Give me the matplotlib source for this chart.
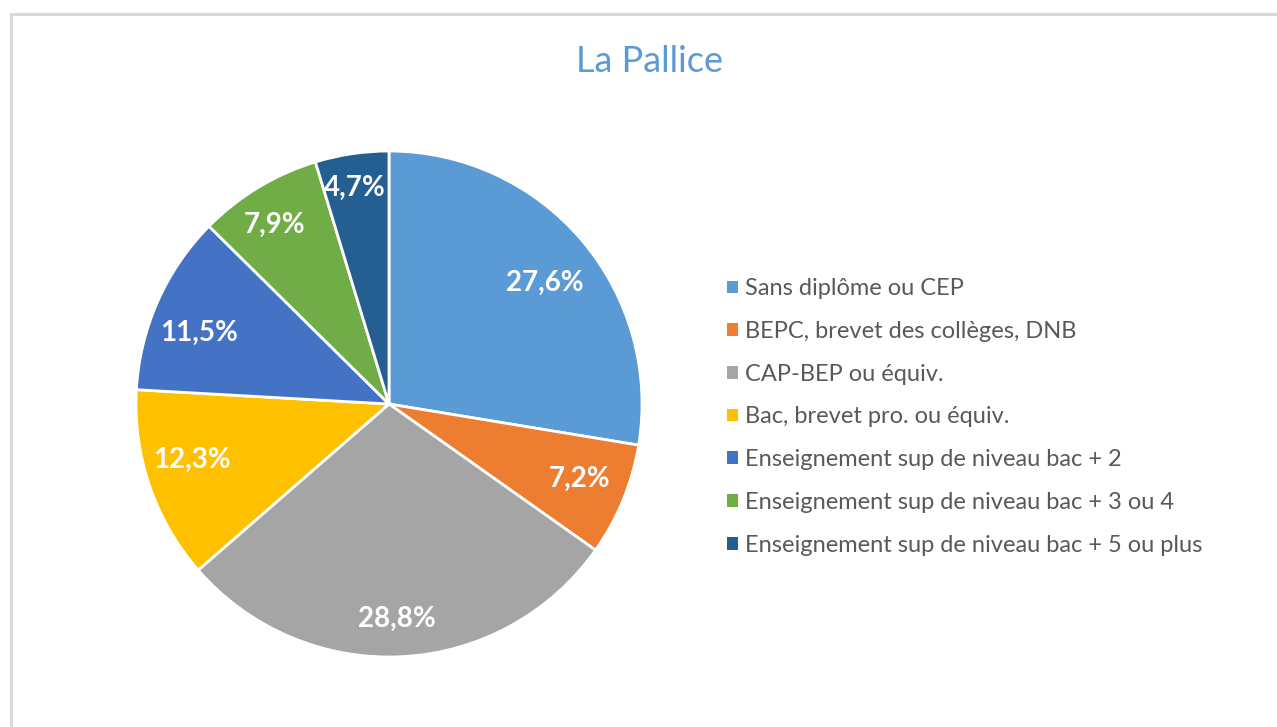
import numpy as np
import matplotlib.pyplot as plt
from matplotlib.patches import Patch
from matplotlib.lines import Line2D

plt.rcParams['font.family'] = ['Lato', 'DejaVu Sans']

categories = [
    "Sans diplôme ou CEP",
    "BEPC, brevet des collèges, DNB",
    "CAP-BEP ou équiv.",
    "Bac, brevet pro. ou équiv.",
    "Enseignement sup de niveau bac + 2",
    "Enseignement sup de niveau bac + 3 ou 4",
    "Enseignement sup de niveau bac + 5 ou plus",
]
values = [27.6, 7.2, 28.8, 12.3, 11.5, 7.9, 4.7]
colors = ["#5B9BD5", "#ED7D31", "#A5A5A5", "#FFC000", "#4472C4", "#70AD47", "#255E91"]
# label placement (Excel "best fit" look): distance as fraction of radius,
# and small angular shift in degrees from the wedge's mid angle
label_dist = [0.78, 0.81, 0.85, 0.81, 0.80, 0.84, 0.865]
label_shift = [-2.5, 1.0, -0.8, -3.0, 3.3, 1.3, 0.5]

W, H = 1277, 727
fig = plt.figure(figsize=(W / 100, H / 100), dpi=100)

# light gray frame (top and left edges visible)
fig.add_artist(Line2D([10.5 / W, 1], [1 - 13.5 / H] * 2, color="#D9D9D9", lw=2.2))
fig.add_artist(Line2D([10.5 / W] * 2, [0, 1 - 13.5 / H], color="#D9D9D9", lw=2.2))

# pie centre ~ (389, 404) px, radius ~253 px
cx, cy, r = 389, 404, 253
ax = fig.add_axes([(cx - r) / W, (H - cy - r) / H, 2 * r / W, 2 * r / H])
wedges, texts, autotexts = ax.pie(
    values, colors=colors, startangle=90, counterclock=False,
    autopct=lambda p: f"{p:.1f}%".replace(".", ","), pctdistance=0.8,
    wedgeprops=dict(edgecolor="white", linewidth=2, clip_on=False),
    textprops=dict(color="white", fontsize=20, fontweight="bold"),
)
for w, t, d, s in zip(wedges, autotexts, label_dist, label_shift):
    a = np.deg2rad((w.theta1 + w.theta2) / 2 + s)
    t.set_position((d * np.cos(a), d * np.sin(a)))
ax.set_xlim(-1, 1)
ax.set_ylim(-1, 1)
ax.set_aspect("equal")
ax.axis("off")

fig.text(650 / W, 1 - 61 / H, "La Pallice", ha="center", va="center",
         fontsize=26, color="#5B9BD5")

handles = [Patch(facecolor=c, edgecolor="none") for c in colors]
leg = fig.legend(handles, categories, loc="center left",
                 bbox_to_anchor=(727 / W, 1 - 417 / H), frameon=False,
                 fontsize=17, handlelength=0.45, handleheight=0.45,
                 handletextpad=0.32, labelspacing=0.92, borderpad=0,
                 borderaxespad=0)
for t in leg.get_texts():
    t.set_color("#595959")

fig.savefig("out.png", dpi=100)
